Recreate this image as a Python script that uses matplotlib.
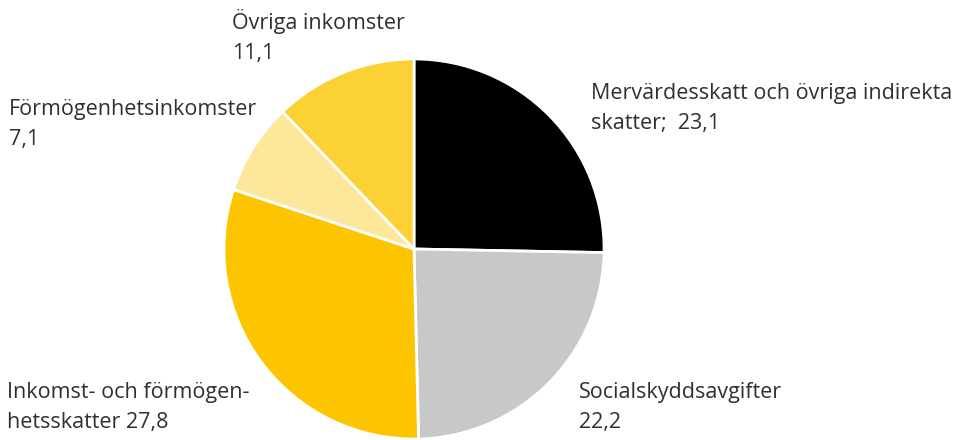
import matplotlib
matplotlib.use("Agg")
from matplotlib import pyplot as plt

plt.rcParams['font.family'] = ['Open Sans', 'DejaVu Sans']

# slices, clockwise from 12 o'clock
values = [23.1, 22.2, 27.8, 7.1, 11.1]
labels = [
    "Mervärdesskatt och övriga indirekta\nskatter;  23,1",
    "Socialskyddsavgifter\n22,2",
    "Inkomst- och förmögen-\nhetsskatter 27,8",
    "Förmögenhetsinkomster\n7,1",
    "Övriga inkomster\n11,1",
]
colors = ["#000000", "#c7c8ca", "#fdc500", "#fde79a", "#fcd136"]
label_pos = [(591, 83), (579, 382), (7, 382), (9, 99), (232, 9)]

W, H = 968, 440
fig = plt.figure(figsize=(W / 100, H / 100), dpi=100)
ax = fig.add_axes([223 / W, 0, 382 / W, 382 / H])
ax.pie(values, colors=colors, startangle=90, counterclock=False, radius=1,
       wedgeprops=dict(edgecolor="white", linewidth=2))
ax.set_xlim(-1.005, 1.005)
ax.set_ylim(-1.005, 1.005)
ax.set_aspect("equal")
ax.axis("off")

for txt, (x, y) in zip(labels, label_pos):
    fig.text(x / W, 1 - y / H, txt, ha="left", va="top", fontsize=15.5,
             color="#303030", linespacing=1.55)

fig.savefig("out.png", dpi=100)
